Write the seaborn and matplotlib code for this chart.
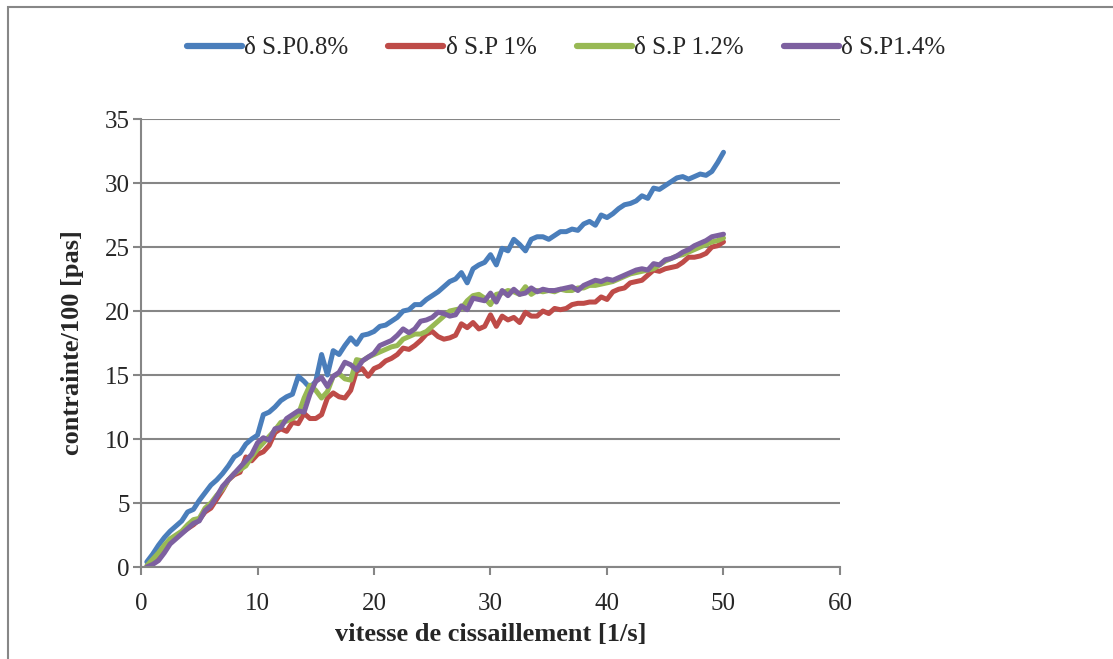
import matplotlib
matplotlib.use("Agg")
import matplotlib.pyplot as plt
import matplotlib.patches as mpatches
import seaborn as sns
import numpy as np
import pandas as pd

# shear rate [1/s]
vitesse = np.arange(1, 101) * 0.5

# stress / 100 for each concentration
sp08 = [0.4, 1.0, 1.7, 2.3, 2.8, 3.2, 3.6, 4.3, 4.5, 5.2,
        5.8, 6.4, 6.8, 7.3, 7.9, 8.6, 8.9, 9.6, 10.0, 10.3,
        11.9, 12.1, 12.5, 13.0, 13.3, 13.5, 14.9, 14.5, 14.0, 14.5,
        16.6, 15.0, 16.9, 16.6, 17.3, 17.9, 17.4, 18.1, 18.2, 18.4,
        18.8, 18.9, 19.2, 19.5, 20.0, 20.1, 20.5, 20.5, 20.9, 21.2,
        21.5, 21.9, 22.3, 22.5, 23.0, 22.2, 23.3, 23.6, 23.8, 24.4,
        23.6, 24.9, 24.7, 25.6, 25.2, 24.7, 25.6, 25.8, 25.8, 25.6,
        25.9, 26.2, 26.2, 26.4, 26.3, 26.8, 27.0, 26.7, 27.5, 27.3,
        27.6, 28.0, 28.3, 28.4, 28.6, 29.0, 28.8, 29.6, 29.5, 29.8,
        30.1, 30.4, 30.5, 30.3, 30.5, 30.7, 30.6, 30.9, 31.6, 32.4]
sp10 = [0.0, 0.3, 0.8, 1.5, 2.0, 2.4, 2.7, 3.0, 3.3, 3.7,
        4.3, 4.6, 5.3, 6.0, 6.8, 7.2, 7.4, 8.6, 8.3, 8.8,
        9.0, 9.5, 10.5, 10.8, 10.6, 11.3, 11.2, 12.0, 11.6, 11.6,
        11.9, 13.2, 13.6, 13.3, 13.2, 13.8, 15.3, 15.5, 14.9, 15.5,
        15.7, 16.1, 16.3, 16.6, 17.1, 17.0, 17.3, 17.7, 18.2, 18.4,
        18.0, 17.8, 17.9, 18.1, 19.0, 18.7, 19.1, 18.6, 18.8, 19.7,
        18.8, 19.6, 19.3, 19.5, 19.1, 19.9, 19.6, 19.6, 20.0, 19.8,
        20.2, 20.1, 20.2, 20.5, 20.6, 20.6, 20.7, 20.7, 21.1, 20.9,
        21.5, 21.7, 21.8, 22.2, 22.3, 22.4, 22.8, 23.2, 23.1, 23.3,
        23.4, 23.5, 23.8, 24.2, 24.2, 24.3, 24.5, 25.0, 25.1, 25.4]
sp12 = [0.1, 0.6, 1.1, 1.7, 2.2, 2.5, 2.8, 3.3, 3.7, 3.8,
        4.6, 5.0, 5.6, 6.1, 6.8, 7.3, 7.6, 7.9, 8.6, 9.2,
        9.7, 10.2, 10.7, 11.3, 11.4, 11.6, 11.9, 13.2, 14.2, 13.8,
        13.2, 13.7, 14.9, 15.1, 14.7, 14.6, 16.2, 16.1, 16.4, 16.6,
        16.8, 17.0, 17.2, 17.3, 17.8, 18.0, 18.2, 18.2, 18.4, 18.8,
        19.2, 19.6, 20.0, 20.1, 20.2, 20.8, 21.2, 21.3, 21.0, 20.5,
        21.3, 21.4, 21.6, 21.5, 21.3, 21.9, 21.3, 21.6, 21.5, 21.6,
        21.5, 21.7, 21.6, 21.6, 21.8, 21.8, 22.0, 22.0, 22.1, 22.2,
        22.3, 22.5, 22.7, 22.9, 23.0, 23.1, 23.2, 23.3, 23.6, 23.9,
        24.1, 24.3, 24.4, 24.6, 24.8, 25.0, 25.2, 25.4, 25.5, 25.7]
sp14 = [0.0, 0.2, 0.5, 1.1, 1.8, 2.2, 2.6, 3.0, 3.4, 3.6,
        4.4, 4.8, 5.5, 6.3, 6.8, 7.3, 7.8, 8.3, 8.8, 9.7,
        10.1, 9.9, 10.8, 10.9, 11.6, 11.9, 12.2, 12.1, 13.5, 14.5,
        14.8, 14.1, 14.9, 15.2, 16.0, 15.8, 15.4, 16.1, 16.4, 16.7,
        17.3, 17.5, 17.7, 18.1, 18.6, 18.3, 18.6, 19.2, 19.3, 19.5,
        19.9, 19.8, 19.6, 19.7, 20.4, 20.1, 21.0, 20.9, 20.8, 21.4,
        20.7, 21.6, 21.2, 21.7, 21.3, 21.4, 21.8, 21.5, 21.7, 21.6,
        21.6, 21.7, 21.8, 21.9, 21.6, 22.0, 22.2, 22.4, 22.3, 22.5,
        22.4, 22.6, 22.8, 23.0, 23.2, 23.3, 23.2, 23.7, 23.6, 24.0,
        24.1, 24.3, 24.6, 24.8, 25.1, 25.3, 25.5, 25.8, 25.9, 26.0]

series_names = ["δ S.P0.8%", "δ S.P 1%", "δ S.P 1.2%", "δ S.P1.4%"]
colors = ["#4A7EBB", "#BE4B48", "#98B954", "#7D60A0"]

df = pd.DataFrame({"x": vitesse, series_names[0]: sp08, series_names[1]: sp10,
                   series_names[2]: sp12, series_names[3]: sp14})
df = df.melt(id_vars="x", var_name="serie", value_name="y")

sns.set_style("white")
plt.rcParams['font.family'] = ['Liberation Serif', 'DejaVu Serif']

fig = plt.figure(figsize=(11.13, 6.59), dpi=100)
ax = fig.add_axes([141 / 1113, 1 - 567 / 659, 699 / 1113, 448 / 659])

sns.lineplot(data=df, x="x", y="y", hue="serie", palette=colors, linewidth=3.6,
             ax=ax, legend=True)

ax.set_xlim(0, 60)
ax.set_ylim(0, 35)
ax.set_xticks(range(0, 61, 10))
ax.set_yticks(range(0, 36, 5))
ax.grid(axis="y", color="#868686", linewidth=1.5)
ax.set_axisbelow(True)
for s in ["top", "right"]:
    ax.spines[s].set_visible(False)
for s in ["left", "bottom"]:
    ax.spines[s].set_color("#868686")
    ax.spines[s].set_linewidth(1.5)
ax.tick_params(axis="both", labelsize=18, color="#868686", width=1.5, length=6,
               direction="out", bottom=True, left=True)
ax.tick_params(axis="x", pad=13)
ax.tick_params(axis="y", pad=2)
ax.set_xlabel("vitesse de cissaillement [1/s]", fontsize=19, fontweight="bold")
ax.set_ylabel("contrainte/100 [pas]", fontsize=19, fontweight="bold")
ax.xaxis.set_label_coords(0.5, (567 - 623) / 448)
ax.yaxis.set_label_coords((84 - 141) / 699, 0.5)

leg = ax.legend(loc="center", bbox_to_anchor=(566 / 1113, 1 - 48 / 659),
                bbox_transform=fig.transFigure, ncol=4, frameon=False, fontsize=18,
                handlelength=2.2, columnspacing=1.6, handletextpad=0.1)
for h in leg.get_lines():
    h.set_linewidth(4.5)

# outer frame
fig.patches.append(mpatches.Rectangle((8 / 1113, -0.05), 1.1, 1 - 7 / 659 + 0.05,
                                      transform=fig.transFigure, fill=False,
                                      edgecolor="#878787", linewidth=1.5))

fig.savefig("out.png", dpi=100)
